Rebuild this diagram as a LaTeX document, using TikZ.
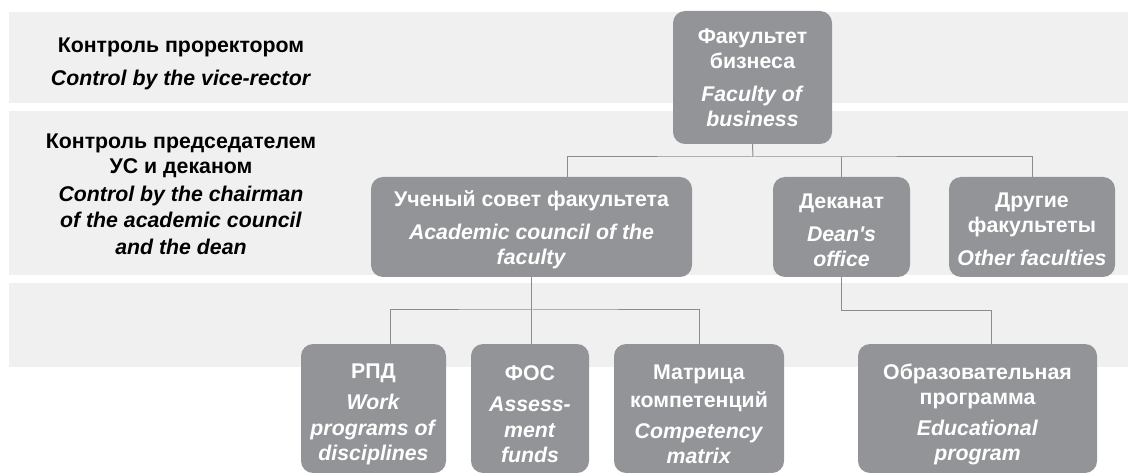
\documentclass[tikz,border=0pt]{standalone}
\usepackage{fontspec}
\setmainfont{Liberation Sans}
\definecolor{bandgrey}{RGB}{239,240,239}
\definecolor{boxgrey}{RGB}{147,148,151}
\definecolor{linegrey}{RGB}{140,140,140}
\tikzset{
  band/.style={fill=bandgrey, draw=none},
  unit/.style={fill=boxgrey, draw=none, rounded corners=12pt, text=white,
    align=center, inner sep=0pt, font=\bfseries},
  level/.style={align=center, inner sep=0pt, font=\bfseries, text=black},
  link/.style={draw=linegrey, line width=1pt}
}
\newcommand{\en}[1]{\textit{#1}}
\newcommand{\padtop}[1]{\rule{0pt}{#1}}
\begin{document}
\begin{tikzpicture}[x=1pt, y=-1pt]
\fontsize{21.3}{25}\selectfont
\useasboundingbox (0,0) rectangle (1128,473);
% bands
\fill[band] (9,12) rectangle (1128,103);
\fill[band] (9,111) rectangle (1128,275);
\fill[band] (9,283) rectangle (1128,367);
% levels
\node[level] (lv1) at (181,61) {\padtop{21pt}Контроль проректором\\[8pt]\en{Control by the vice-rector}};
\node[level] (lv2) at (181,194) {Контроль председателем\\УС и деканом\\[3pt]\en{Control by the chairman}\\[1.5pt]\en{of the academic council}\\[1.5pt]\en{and the dean}};
% nodes
\node[unit, minimum width=159, minimum height=133] (fac) at (752.5,77.5) {Факультет\\бизнеса\\[8pt]\en{Faculty of}\\\en{business}};
\node[unit, minimum width=321, minimum height=100] (acad) at (531.5,227) {\padtop{21pt}Ученый совет факультета\\[8pt]\en{Academic council of the}\\\en{faculty}};
\node[unit, minimum width=137, minimum height=100] (dean) at (841.5,227) {\padtop{21pt}Деканат\\[8pt]\en{Dean\textquotesingle s}\\\en{office}};
\node[unit, minimum width=166, minimum height=100] (other) at (1032,227) {\padtop{20pt}Другие\\факультеты\\[8pt]\en{Other faculties}};
\node[unit, minimum width=145, minimum height=129] (rpd) at (373.5,408.5) {\padtop{27pt}РПД\\[6pt]\en{Work}\\[1pt]\en{programs of}\\\en{disciplines}};
\node[unit, minimum width=118, minimum height=129] (fos) at (530,408.5) {\padtop{27pt}ФОС\\[6pt]\en{Assess-}\\[1pt]\en{ment}\\\en{funds}};
\node[unit, minimum width=170, minimum height=129] (matr) at (699,408.5) {\padtop{27pt}Матрица\\[3pt]компетенций\\[6pt]\en{Competency}\\\en{matrix}};
\node[unit, minimum width=239, minimum height=129] (edu) at (977.5,408.5) {\padtop{27pt}Образовательная\\программа\\[6pt]\en{Educational}\\\en{program}};
% junctions
\coordinate (j1) at (753,157);
\coordinate (j2) at (532,310);
% links
\draw[link] (fac.south) -- (j1);
\draw[link] ([xshift=35.5pt]acad.north) |- (j1) -| (other.north);
\draw[link] (dean.north) -- (dean.north |- j1);
\draw[link] (acad.south) -- (acad.south |- fos.north);
\draw[link] ([xshift=16.5pt]rpd.north) |- (j2) -| (matr.north);
\draw[link] (dean.south) -- ++(0,33) -| ([xshift=13.5pt]edu.north);
\end{tikzpicture}
\end{document}
